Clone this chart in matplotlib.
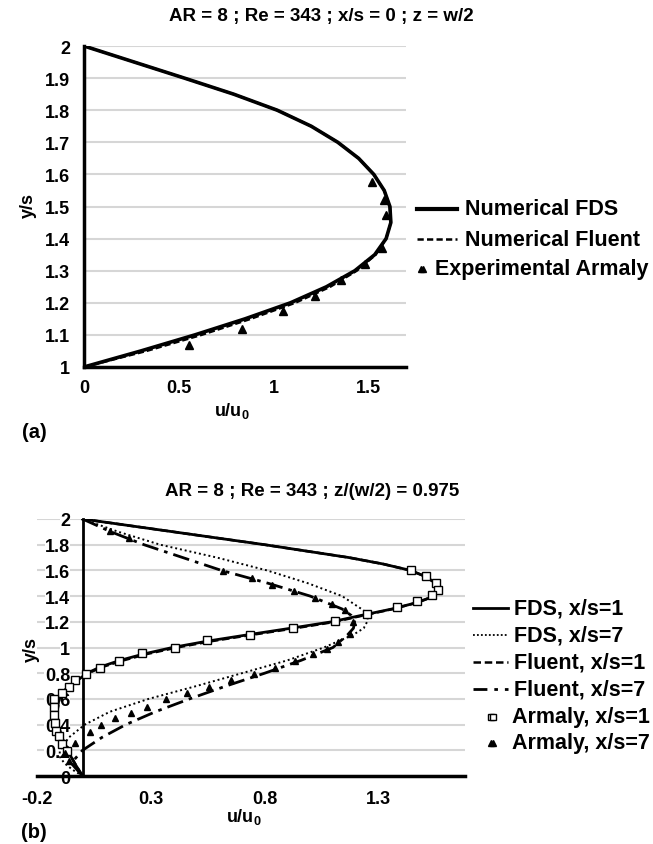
"""Velocity profiles u/u0 vs y/s: (a) centre plane x/s=0, (b) near side wall z/(w/2)=0.975."""
import matplotlib
matplotlib.use("Agg")
import matplotlib.pyplot as plt
from matplotlib.lines import Line2D

plt.rcParams["font.family"] = ["Liberation Sans", "DejaVu Sans"]
plt.rcParams["font.weight"] = "bold"
plt.rcParams["mathtext.fontset"] = "custom"
for k in ("rm", "it", "bf"):
    plt.rcParams[f"mathtext.{k}"] = "Liberation Sans:bold"

# ---- panel (a) data: x/s = 0, z = w/2
A_Y = [1.0, 1.05, 1.1, 1.15, 1.2, 1.25, 1.3, 1.35, 1.4, 1.45, 1.5,
       1.55, 1.6, 1.65, 1.7, 1.75, 1.8, 1.85, 1.9, 1.95, 2.0]
A_FDS_U = [0, 0.30, 0.585, 0.85, 1.09, 1.28, 1.43, 1.535, 1.595, 1.62, 1.615,
           1.585, 1.53, 1.45, 1.34, 1.20, 1.02, 0.79, 0.53, 0.265, 0]
A_FLU_U = [0, 0.33, 0.62, 0.88, 1.115, 1.30, 1.44, 1.54, 1.595, 1.62, 1.615,
           1.585, 1.53, 1.45, 1.34, 1.20, 1.02, 0.79, 0.53, 0.265, 0]
A_EXP_U = [0.554, 0.833, 1.051, 1.221, 1.356, 1.486, 1.571, 1.597, 1.585, 1.523]
A_EXP_Y = [1.070, 1.119, 1.173, 1.221, 1.270, 1.322, 1.370, 1.474, 1.520, 1.575]
A_XTICKS = [0, 0.5, 1, 1.5]
A_YTICKS = [1.0, 1.1, 1.2, 1.3, 1.4, 1.5, 1.6, 1.7, 1.8, 1.9, 2.0]

# ---- panel (b) data: z/(w/2) = 0.975
B_FDS1_Y = [2.0, 1.9, 1.8, 1.7, 1.65, 1.6, 1.55, 1.5, 1.45, 1.4, 1.35, 1.3, 1.25, 1.2,
            1.15, 1.1, 1.05, 1.0, 0.95, 0.9, 0.85, 0.8, 0.75, 0.7, 0.65, 0.6, 0.5,
            0.4, 0.3, 0.2, 0.1, 0.0]
B_FDS1_U = [0, 0.40, 0.80, 1.17, 1.32, 1.44, 1.51, 1.55, 1.565, 1.545, 1.47, 1.36, 1.225,
            1.095, 0.915, 0.73, 0.55, 0.395, 0.27, 0.165, 0.08, 0.02, -0.018, -0.06,
            -0.088, -0.103, -0.113, -0.108, -0.092, -0.066, -0.035, 0.0]
B_FLU1_U = [0, 0.40, 0.80, 1.17, 1.32, 1.44, 1.51, 1.55, 1.565, 1.545, 1.47, 1.365, 1.235,
            1.11, 0.935, 0.75, 0.57, 0.415, 0.285, 0.18, 0.09, 0.025, -0.015, -0.058,
            -0.086, -0.101, -0.111, -0.106, -0.09, -0.064, -0.034, 0.0]
B_FDS7_Y = [2.0, 1.9, 1.8, 1.7, 1.6, 1.5, 1.4, 1.3, 1.26, 1.2, 1.15, 1.1, 1.0, 0.9,
            0.8, 0.7, 0.6, 0.5, 0.4, 0.3, 0.2, 0.15, 0.1, 0.05, 0.0]
B_FDS7_U = [0, 0.158, 0.341, 0.59, 0.81, 0.99, 1.14, 1.225, 1.255, 1.25, 1.235, 1.19,
            1.06, 0.90, 0.70, 0.50, 0.29, 0.12, 0.01, -0.06, -0.10, -0.10, -0.08, -0.045, 0.0]
B_FLU7_Y = [2.0, 1.9, 1.8, 1.7, 1.6, 1.5, 1.4, 1.3, 1.25, 1.2, 1.15, 1.1, 1.0, 0.9,
            0.8, 0.7, 0.6, 0.5, 0.4, 0.3, 0.2, 0.1, 0.0]
B_FLU7_U = [0, 0.125, 0.27, 0.44, 0.61, 0.815, 1.0, 1.14, 1.18, 1.195, 1.19, 1.165,
            1.10, 0.96, 0.80, 0.63, 0.47, 0.32, 0.19, 0.085, 0.0, -0.05, 0.0]
B_EXP1_U = [1.443, 1.507, 1.551, 1.563, 1.534, 1.468, 1.38, 1.251, 1.109, 0.926, 0.736,
            0.546, 0.404, 0.261, 0.158, 0.078, 0.015, -0.032, -0.061, -0.088, -0.125,
            -0.124, -0.125, -0.123, -0.115, -0.105, -0.089, -0.067]
B_EXP1_Y = [1.607, 1.558, 1.505, 1.451, 1.406, 1.359, 1.316, 1.263, 1.206, 1.154, 1.1,
            1.055, 0.997, 0.956, 0.898, 0.841, 0.794, 0.747, 0.695, 0.643, 0.601,
            0.534, 0.472, 0.415, 0.347, 0.311, 0.251, 0.197]
B_EXP7_U = [0.122, 0.202, 0.619, 0.744, 0.832, 0.927, 1.022, 1.095, 1.154, 1.19, 1.175,
            1.124, 1.072, 1.014, 0.933, 0.846, 0.751, 0.652, 0.556, 0.458, 0.367, 0.285,
            0.214, 0.141, 0.082, 0.031, -0.032, -0.075, -0.06]
B_EXP7_Y = [1.906, 1.849, 1.594, 1.542, 1.49, 1.438, 1.385, 1.341, 1.289, 1.198, 1.107,
            1.042, 0.99, 0.951, 0.898, 0.841, 0.794, 0.747, 0.695, 0.643, 0.599, 0.539,
            0.49, 0.451, 0.396, 0.344, 0.253, 0.18, 0.12]
B_XTICKS = [-0.2, 0.3, 0.8, 1.3]
B_YTICKS = [0, 0.2, 0.4, 0.6, 0.8, 1.0, 1.2, 1.4, 1.6, 1.8, 2.0]

W, H = 653, 845
GRID = "#d6d6d6"
TICK_FS = 13
LEG_FS = 15.5
fig = plt.figure(figsize=(W / 100, H / 100), dpi=100)


def px_axes(l, t, r, b):
    return fig.add_axes([l / W, 1 - b / H, (r - l) / W, (b - t) / H])


def ftext(x, y, s, **kw):
    kw.setdefault("fontweight", "bold")
    fig.text(x / W, 1 - y / H, s, **kw)


def leg_line(x0, x1, y, **kw):
    fig.add_artist(Line2D([x0 / W, x1 / W], [1 - y / H] * 2, transform=fig.transFigure,
                          color="k", **kw))


def style(ax, lw_left, lw_bottom):
    for s in ("top", "right"):
        ax.spines[s].set_visible(False)
    ax.spines["left"].set_linewidth(lw_left)
    ax.spines["bottom"].set_linewidth(lw_bottom)
    ax.grid(axis="y", color=GRID, lw=1.5)
    ax.set_axisbelow(True)
    ax.tick_params(length=0, labelsize=TICK_FS)
    for t in ax.get_xticklabels() + ax.get_yticklabels():
        t.set_fontweight("bold")


# ---------------- (a)
ax = px_axes(84, 47, 406, 368)
ax.plot(A_FDS_U, A_Y, "-", color="k", lw=2.6, zorder=3)
ax.plot(A_FLU_U, A_Y, color="k", lw=1.8, ls=(0, (2.5, 1.2)), zorder=2.5)
ax.plot(A_EXP_U, A_EXP_Y, "^", color="k", ms=5.5, zorder=4)
ax.set_xlim(0, 1.7)
ax.set_ylim(1, 2)
ax.set_xticks(A_XTICKS, [f"{v:g}" for v in A_XTICKS])
ax.set_yticks(A_YTICKS, [f"{v:g}" for v in A_YTICKS])
style(ax, 2.5, 2.5)
ax.tick_params(axis="y", pad=10)
ax.tick_params(axis="x", pad=9)

ftext(321, 16, "AR = 8 ; Re = 343 ; x/s = 0 ; z = w/2", fontsize=13.5, ha="center", va="center")
ftext(28, 206, "y/s", fontsize=13, rotation=90, ha="center", va="center")
ftext(232, 411, "u/u$_0$", fontsize=13, ha="center", va="center")
ftext(34, 433, "(a)", fontsize=14.5, ha="center", va="center")

leg_line(417, 457, 210, lw=3)
ftext(465, 210, "Numerical FDS", fontsize=LEG_FS, va="center")
leg_line(417, 457, 240, lw=1.8, ls=(0, (2.5, 1.3)))
ftext(465, 240, "Numerical Fluent", fontsize=LEG_FS, va="center")
leg_line(421, 423, 270, lw=0, marker="^", ms=4.5)
ftext(435, 270, "Experimental Armaly", fontsize=LEG_FS, va="center")

# ---------------- (b)
ax = px_axes(37, 520, 465, 777)
ax.plot(B_FDS1_U, B_FDS1_Y, "-", color="k", lw=2, zorder=3)
ax.plot(B_FDS7_U, B_FDS7_Y, color="k", lw=1.4, ls=(0, (1, 1.5)), zorder=3)
ax.plot(B_FLU1_U, B_FDS1_Y, color="k", lw=1.8, ls=(0, (3, 1.5)), zorder=2.8)
ax.plot(B_FLU7_U, B_FLU7_Y, color="k", lw=2, ls=(0, (6, 2.2, 1.3, 2.2)), zorder=3)
ax.plot(B_EXP1_U, B_EXP1_Y, "s", mfc="white", mec="k", mew=1, ms=5.5, zorder=4)
ax.plot(B_EXP7_U, B_EXP7_Y, "^", color="k", ms=5, zorder=4)
ax.set_xlim(-0.2, 1.68)
ax.set_ylim(0, 2)
ax.set_xticks(B_XTICKS, [f"{v:g}" for v in B_XTICKS])
ax.set_yticks(B_YTICKS, [f"{v:g}" for v in B_YTICKS])
ax.spines["left"].set_position(("data", 0))
style(ax, 2, 2.5)
ax.tick_params(axis="y", pad=9)
ax.tick_params(axis="x", pad=10)
for t in ax.get_yticklabels():
    t.set_bbox(dict(facecolor="white", edgecolor="none", pad=0.3))

ftext(312, 492, "AR = 8 ; Re = 343 ; z/(w/2) = 0.975", fontsize=13.5, ha="center", va="center")
ftext(31, 650, "y/s", fontsize=13, rotation=90, ha="center", va="center")
ftext(244, 817, "u/u$_0$", fontsize=13, ha="center", va="center")
ftext(34, 833, "(b)", fontsize=14.5, ha="center", va="center")

LB_Y = [609, 636, 663, 690, 718, 744]
leg_line(473, 508, LB_Y[0], lw=2)
leg_line(473, 508, LB_Y[1], lw=1.3, ls=(0, (1, 1.2)))
leg_line(473, 508, LB_Y[2], lw=1.8, ls=(0, (3, 1.5)))
leg_line(473, 508, LB_Y[3], lw=2, ls=(0, (5, 2.5, 1.3, 2.5)))
leg_line(491, 493, LB_Y[4], lw=0, marker="s", mfc="white", mec="k", mew=1, ms=4.5)
leg_line(491, 493, LB_Y[5], lw=0, marker="^", ms=4.5)
for y, lab in zip(LB_Y[:4], ["FDS, x/s=1", "FDS, x/s=7", "Fluent, x/s=1", "Fluent, x/s=7"]):
    ftext(514, y, lab, fontsize=LEG_FS, va="center")
for y, lab in zip(LB_Y[4:], ["Armaly, x/s=1", "Armaly, x/s=7"]):
    ftext(512, y, lab, fontsize=LEG_FS, va="center")

fig.savefig("out.png", dpi=100)
